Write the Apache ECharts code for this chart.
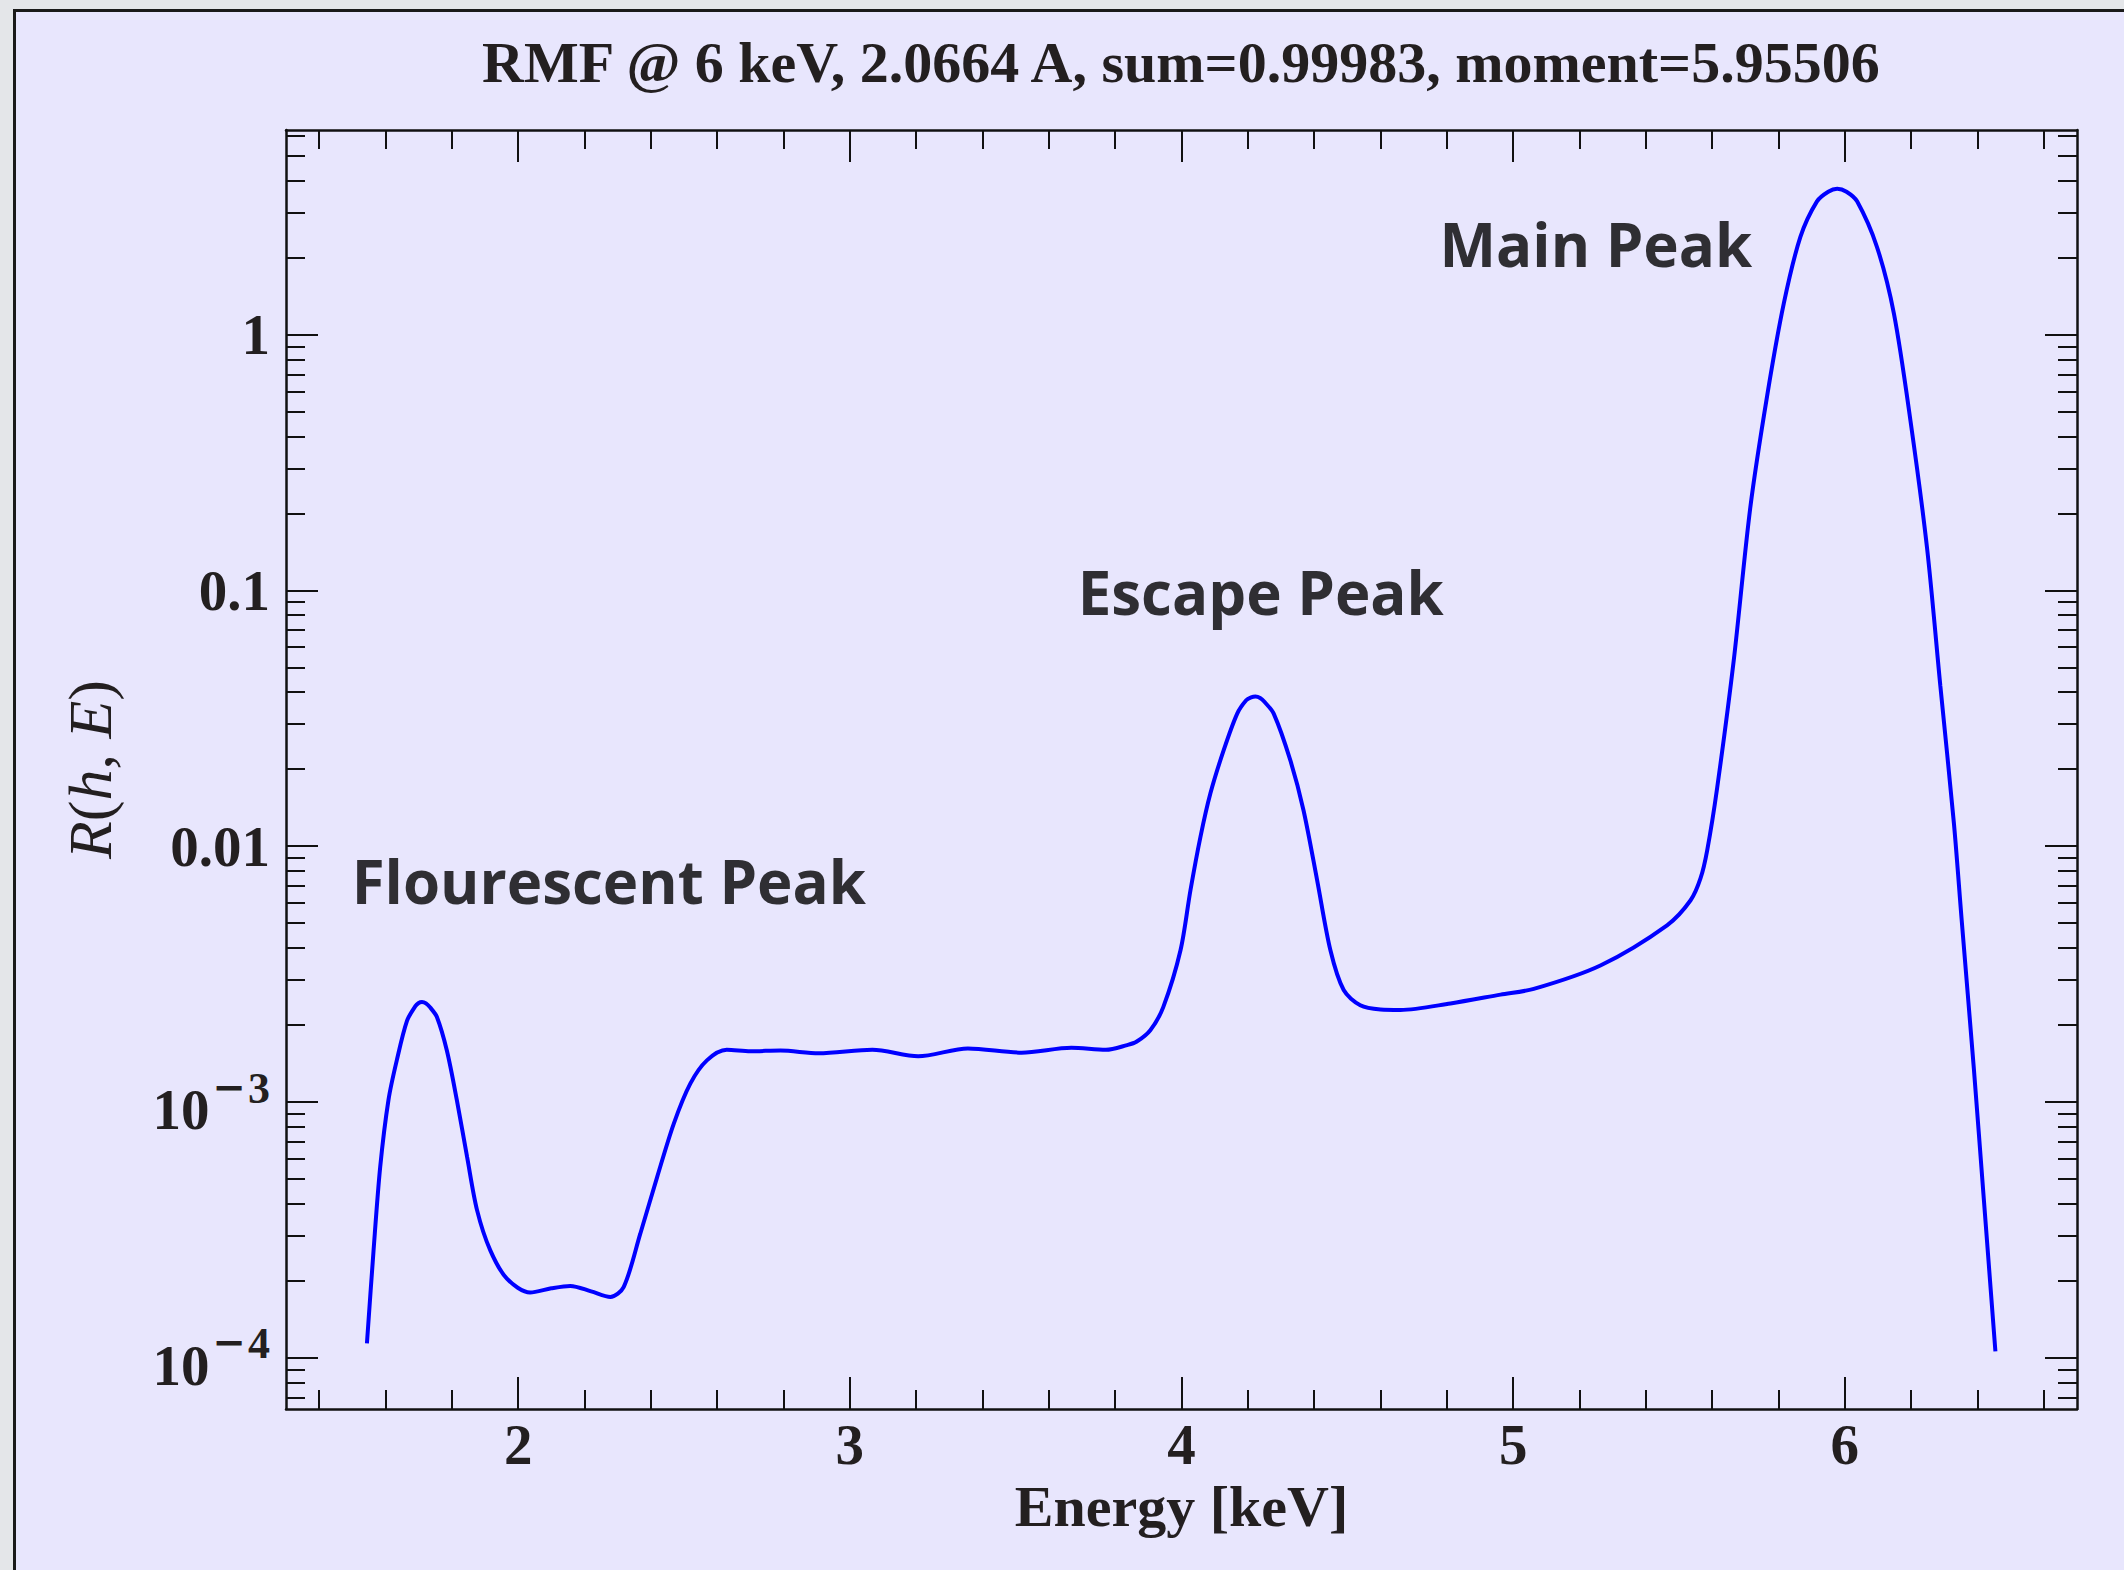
<!DOCTYPE html>
<html><head><meta charset="utf-8">
<script src="https://cdn.jsdelivr.net/npm/echarts@6/dist/echarts.min.js"></script>
<style>
html,body{margin:0;padding:0;width:2124px;height:1570px;overflow:hidden;background:#e4e6e9;}
#panel{position:absolute;left:13px;top:9px;width:2120px;height:1570px;background:#e8e6fd;border-left:3px solid #1a1a1a;border-top:3px solid #1a1a1a;}
#chart{position:absolute;left:0;top:0;width:2124px;height:1570px;}
</style></head><body>
<div id="panel"></div><div id="chart"></div>
<script>
// ---- data ----
const energy = [1.544,1.564,1.584,1.609,1.634,1.665,1.690,1.700,1.710,1.722,1.735,1.755,1.785,1.815,1.846,1.876,1.916,1.966,2.036,2.100,2.157,2.220,2.278,2.318,2.368,2.419,2.469,2.519,2.569,2.629,2.700,2.791,2.906,3.068,3.206,3.356,3.518,3.668,3.772,3.836,3.864,3.906,3.945,3.997,4.027,4.057,4.087,4.127,4.168,4.195,4.210,4.223,4.237,4.250,4.278,4.328,4.368,4.409,4.449,4.489,4.539,4.600,4.660,4.811,4.962,5.062,5.263,5.464,5.535,5.565,5.585,5.615,5.665,5.715,5.766,5.816,5.866,5.916,5.950,5.977,6.005,6.037,6.097,6.148,6.198,6.248,6.288,6.329,6.352,6.389,6.419,6.454];
const response = [1.14e-4,2.63e-4,5.57e-4,1.02e-3,1.455e-3,2.08e-3,2.37e-3,2.44e-3,2.46e-3,2.43e-3,2.34e-3,2.15e-3,1.59e-3,1.02e-3,6.10e-4,3.78e-4,2.63e-4,2.04e-4,1.80e-4,1.87e-4,1.91e-4,1.82e-4,1.73e-4,1.89e-4,3.05e-4,5.09e-4,8.22e-4,1.18e-3,1.455e-3,1.60e-3,1.58e-3,1.59e-3,1.55e-3,1.60e-3,1.51e-3,1.62e-3,1.56e-3,1.63e-3,1.60e-3,1.67e-3,1.72e-3,1.91e-3,2.35e-3,3.92e-3,6.73e-3,1.086e-2,1.607e-2,2.37e-2,3.30e-2,3.72e-2,3.82e-2,3.85e-2,3.80e-2,3.67e-2,3.30e-2,2.17e-2,1.38e-2,7.36e-3,3.92e-3,2.74e-3,2.39e-3,2.30e-3,2.29e-3,2.43e-3,2.63e-3,2.77e-3,3.42e-3,4.91e-3,6.15e-3,7.50e-3,9.64e-3,1.69e-2,5.32e-2,0.211,0.579,1.324,2.41,3.32,3.62,3.72,3.62,3.32,2.20,1.208,0.460,0.146,4.23e-2,1.225e-2,5.2e-3,1.35e-3,4.18e-4,1.06e-4];

const xMajorTicks = [2,3,4,5,6];
const xTickLabels = ['2','3','4','5','6'];
const yMajorTicks = [1e-4,1e-3,1e-2,0.1,1];
const yTickLabels = ['{b|10}{m|\u2212}{s|4}','{b|10}{m|\u2212}{s|3}','0.01','0.1','1'];

const annotationTexts = ['Main Peak','Escape Peak','Flourescent Peak'];
const annotationEnergy = [4.778, 3.687, 1.498];
const annotationResponse = [2.26, 0.0985, 0.00733];

const titleText = 'RMF @ 6 keV, 2.0664 A, sum=0.99983, moment=5.95506';
const xName = 'Energy [keV]';

// ---- build ----
const X_MIN = 1.3, X_MAX = 6.7;
const LY_MIN = -4.2, LY_MAX = 0.8;
const xMinor = [];
for (let i = 14; i <= 66; i += 2) { if (i % 10 !== 0) xMinor.push(i / 10); }
const yMinor = [];
for (let n = -5; n <= 0; n++) for (let k = 2; k <= 9; k++) {
  const v = Math.log10(k) + n;
  if (v > LY_MIN && v < LY_MAX) yMinor.push(v);
}
const yMajorLog = yMajorTicks.map(v => Math.log10(v));

const SERIF = '"Liberation Serif", "Times New Roman", serif';
const INK = '#231f20';
const lineCol = '#111';

function xAx(pos, ticks, len, opts) {
  return Object.assign({
    type: 'value', position: pos, min: X_MIN, max: X_MAX,
    axisLine: { show: false, onZero: false },
    axisTick: { show: true, inside: true, length: len, customValues: ticks, lineStyle: { color: lineCol, width: 2 } },
    axisLabel: { show: false },
    splitLine: { show: false }
  }, opts || {});
}
function yAx(pos, ticks, len, opts) {
  return Object.assign({
    type: 'value', position: pos, min: LY_MIN, max: LY_MAX,
    axisLine: { show: false, onZero: false },
    axisTick: { show: true, inside: true, length: len, customValues: ticks, lineStyle: { color: lineCol, width: 2 } },
    axisLabel: { show: false },
    splitLine: { show: false }
  }, opts || {});
}

const xAxes = [
  xAx('bottom', xMajorTicks, 32, {
    axisLine: { show: true, onZero: false, lineStyle: { color: lineCol, width: 2.5 } },
    axisLabel: { show: true, customValues: xMajorTicks, margin: 7,
      formatter: v => { const i = xMajorTicks.findIndex(t => Math.abs(t - v) < 1e-9); return i >= 0 ? xTickLabels[i] : ''; },
      fontFamily: SERIF, fontWeight: 'bold', fontSize: 57, color: INK },
    name: xName, nameLocation: 'middle', nameGap: 65,
    nameTextStyle: { fontFamily: SERIF, fontWeight: 'bold', fontSize: 58, color: INK }
  }),
  xAx('bottom', xMinor, 19),
  xAx('top', xMajorTicks, 32, { axisLine: { show: true, onZero: false, lineStyle: { color: lineCol, width: 2.5 } } }),
  xAx('top', xMinor, 19)
];
const yAxes = [
  yAx('left', yMajorLog, 32, {
    axisLine: { show: true, onZero: false, lineStyle: { color: lineCol, width: 2.5 } },
    axisLabel: { show: true, customValues: yMajorLog, margin: 16,
      formatter: v => { const i = yMajorLog.findIndex(t => Math.abs(t - v) < 1e-6); return i >= 0 ? yTickLabels[i] : ''; },
      fontFamily: SERIF, fontWeight: 'bold', fontSize: 57, color: INK,
      rich: {
        b: { fontFamily: SERIF, fontWeight: 'bold', fontSize: 57, color: INK, lineHeight: 72, verticalAlign: 'bottom' },
        m: { fontFamily: '"DejaVu Serif", serif', fontWeight: 'bold', fontSize: 40, color: INK, lineHeight: 44, verticalAlign: 'top', padding: [0, 2, 0, 3] },
        s: { fontFamily: SERIF, fontWeight: 'bold', fontSize: 44, color: INK, lineHeight: 44, verticalAlign: 'top' }
      } },
    name: '{i|R}{n|(}{i|h}{n|, }{i|E}{n|)}', nameLocation: 'middle', nameRotate: 90, nameGap: 165,
    nameTextStyle: { rich: {
      i: { fontFamily: SERIF, fontStyle: 'italic', fontSize: 62, color: INK },
      n: { fontFamily: SERIF, fontSize: 62, color: INK }
    } }
  }),
  yAx('left', yMinor, 19),
  yAx('right', yMajorLog, 32, { axisLine: { show: true, onZero: false, lineStyle: { color: lineCol, width: 2.5 } } }),
  yAx('right', yMinor, 19)
];

const curve = energy.map((e, i) => [e, Math.log10(response[i])]);
const annData = annotationTexts.map((t, i) => ({ value: [annotationEnergy[i], Math.log10(annotationResponse[i])], name: t }));

const chart = echarts.init(document.getElementById('chart'), null, { renderer: 'svg', width: 2124, height: 1570 });
chart.setOption({
  animation: false,
  backgroundColor: 'transparent',
  grid: { left: 286, top: 130, width: 1791, height: 1279, containLabel: false },
  graphic: [{
    type: 'text', left: 1182 - 700, top: 33,
    style: { text: titleText, width: 1400, align: 'center', fontFamily: SERIF, fontWeight: 'bold', fontSize: 58, fill: INK }
  }],
  xAxis: xAxes,
  yAxis: yAxes,
  series: [
    { type: 'line', xAxisIndex: 0, yAxisIndex: 0, data: curve, showSymbol: false, smooth: 0.3,
      lineStyle: { color: '#0000ff', width: 4 }, silent: true, clip: true },
    { type: 'scatter', xAxisIndex: 0, yAxisIndex: 0, data: annData, symbolSize: 0, silent: true,
      label: { show: true, position: 'right', distance: 0, formatter: p => p.name,
        fontFamily: '"Open Sans", "Noto Sans", sans-serif', fontWeight: 'bold', fontSize: 60, color: '#000000' } }
  ]
});
</script>
</body></html>
